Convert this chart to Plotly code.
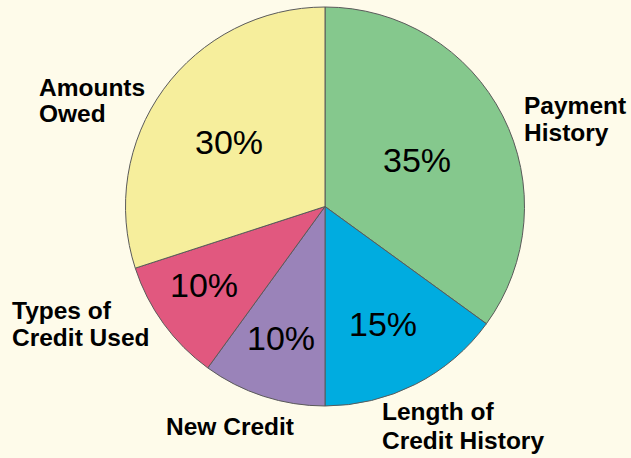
import math
import plotly.graph_objects as go

# ---- data ----
categories = ["Payment History", "Length of Credit History", "New Credit",
              "Types of Credit Used", "Amounts Owed"]
label_lines = [["Payment", "History"], ["Length of", "Credit History"], ["New Credit"],
               ["Types of", "Credit Used"], ["Amounts", "Owed"]]
values = [35, 15, 10, 10, 30]

# ---- styles / positions ----
colors = ["#85C88D", "#00ACE0", "#9A83B9", "#E1587F", "#F6EE9C"]
W, H = 631, 458
CX, CY, R = 325, 206.5, 199.5
pct_radius = [0.518, 0.659, 0.697, 0.722, 0.579]     # fraction of radius for % text
pct_angle_tweak = [0, 0.8, 0.4, 3.2, -1.8]          # degrees
# outer labels: (x px, first-line y px, line spacing px, xanchor)
label_pos = [(522, 105, 27, "left"), (380, 411, 29, "left"), (230, 426, 0, "center"),
             (10, 310, 27, "left"), (37, 87, 26.5, "left")]
bg = "#FEFBEA"
FONT = "Liberation Sans, Arial, Helvetica"

fig = go.Figure(go.Pie(
    labels=categories, values=values, sort=False, direction="clockwise",
    rotation=0, textinfo="none", hoverinfo="label+percent",
    marker=dict(colors=colors, line=dict(color="#5a5a5a", width=1)),
    domain=dict(x=[(CX - R) / W, (CX + R) / W], y=[1 - (CY + R) / H, 1 - (CY - R) / H]),
    showlegend=False,
))

annotations = []
total = sum(values)
cum = 0
for i, v in enumerate(values):
    mid = (cum + v / 2) / total * 2 * math.pi + math.radians(pct_angle_tweak[i])
    cum += v
    r = R * pct_radius[i]
    px = CX + r * math.sin(mid)
    py = CY - r * math.cos(mid)
    annotations.append(dict(
        x=px / W, y=1 - py / H, xref="paper", yref="paper", showarrow=False,
        text=f"{round(v / total * 100)}%", xanchor="center", yanchor="middle",
        font=dict(family=FONT, size=34, color="black")))
for lines, (lx, ly, sp, anc) in zip(label_lines, label_pos):
    for k, line in enumerate(lines):
        annotations.append(dict(
            x=lx / W, y=1 - (ly + k * sp) / H, xref="paper", yref="paper", showarrow=False,
            text=f"<b>{line}</b>", xanchor=anc, yanchor="middle", align="left",
            font=dict(family=FONT, size=24.5, color="black")))

fig.update_layout(
    width=W, height=H, margin=dict(l=0, r=0, t=0, b=0),
    paper_bgcolor=bg, plot_bgcolor=bg, annotations=annotations,
)
fig.write_html("out.html", config={"displayModeBar": False},
               post_script="document.body.style.margin='0';document.body.style.background='%s';" % bg)
